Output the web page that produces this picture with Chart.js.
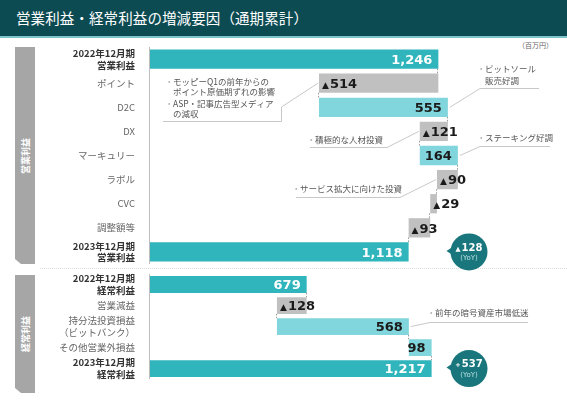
<!DOCTYPE html>
<html>
<head>
<meta charset="utf-8">
<script src="https://cdn.jsdelivr.net/npm/chart.js@4.4.0/dist/chart.umd.min.js"></script>
<style>
html, body { margin: 0; padding: 0; background: #fff; }
#page { position: relative; width: 567px; height: 405px; overflow: hidden; font-family: "Noto Sans CJK JP", sans-serif; }
#head { position: absolute; left: 0; top: 0; width: 567px; height: 36px; background: #0d4b53; border-bottom: 2px solid #7ec4c8; }
#title { position: absolute; left: 16px; top: 7px; color: #fff; font-size: 14.5px; letter-spacing: 0.1px; }
.tab { position: absolute; left: 15px; width: 20px; background: #a6a6a6;
       clip-path: polygon(0 0, 100% 0, 100% 100%, 6px 100%, 0 calc(100% - 5px)); }
.tab span { position: absolute; left: 50%; top: 50%; transform: translate(-50%, -50%) rotate(-90deg);
            color: #fff; font-size: 9px; font-weight: bold; white-space: nowrap; }
#unit { position: absolute; left: 518px; top: 40px; font-size: 7px; color: #666; }
#sep { position: absolute; left: 40px; top: 268px; width: 527px; border-top: 1px dotted #dcdcdc; }
.layer { position: absolute; left: 0; top: 0; }
</style>
</head>
<body>
<div id="page">
  <div id="head"><div id="title">営業利益・経常利益の増減要因（通期累計）</div></div>
  <div id="unit">（百万円）</div>
  <div class="tab" style="top:47px;height:217px"><span>営業利益</span></div>
  <div class="tab" style="top:275px;height:118px"><span>経常利益</span></div>
  <div id="sep"></div>
  <canvas id="opChart" class="layer" width="567" height="405"></canvas>
  <canvas id="ordChart" class="layer" width="567" height="405"></canvas>
</div>
<script>
// 営業利益 (百万円)
const opCategories = [['2022年12月期', '営業利益'], 'ポイント', 'D2C', 'DX', 'マーキュリー', 'ラボル', 'CVC', '調整額等', ['2023年12月期', '営業利益']];
const opValues = [1246, -514, 555, -121, 164, -90, -29, -93, 1118];
const opYoY = '▲128';

// 経常利益 (百万円)
const ordCategories = [['2022年12月期', '経常利益'], '営業減益', ['持分法投資損益', '（ビットバンク）'], 'その他営業外損益', ['2023年12月期', '経常利益']];
const ordValues = [679, -128, 568, 98, 1217];
const ordYoY = '+537';

// コメント
const opNoteTexts = [
    ['・モッピーQ1の前年からの', 'ポイント原価期ずれの影響', '・ASP・記事広告型メディア', 'の減収'],
    ['・ビットソール', '販売好調'],
    ['・積極的な人材投資'],
    ['・ステーキング好調'],
    ['・サービス拡大に向けた投資']
];
const ordNoteTexts = [
    ['・前年の暗号資産市場低迷']
];

// where each comment sits (page px) and which bar it points at
const opNoteLayout = [
    { row: 1, box: true, x: 169, ys: [82, 92, 104, 114] },
    { row: 2, side: 'right', x: 481, ys: [69, 81], lineY: 88, x1: 480, x2: 539 },
    { row: 3, side: 'left', x: 311, ys: [140], lineY: 147, x1: 310, x2: 387 },
    { row: 4, side: 'right', x: 481, ys: [138], lineY: 146, x1: 480, x2: 550 },
    { row: 5, side: 'left', x: 296, ys: [189], lineY: 197, x1: 296, x2: 400 }
];
const ordNoteLayout = [
    { row: 2, side: 'right', x: 431, ys: [313], lineY: 322, x1: 430, x2: 528 }
];

const TOTAL = '#30b5bd', UP = '#80d6dc', DOWN = '#c0c0c0';

function buildRanges(values) {
    let run = 0;
    const ranges = [], ends = [];
    values.forEach(function (v, i) {
        if (i == 0 || i == values.length - 1) {
            ranges.push([0, v]);
            run = v;
        } else {
            ranges.push([run, run + v]);
            run = run + v;
        }
        ends.push(run);
    });
    return { ranges: ranges, ends: ends };
}

function fmt(v) {
    return Math.abs(v).toLocaleString('en-US');
}

function drawValue(ctx, text, x, y, align, color, big, small) {
    // text may start with ▲ / +, drawn smaller than the digits
    let mark = '';
    if (text[0] == '▲' || text[0] == '+') { mark = text[0]; text = text.slice(1); }
    ctx.font = 'bold ' + big + 'px "DejaVu Sans"';
    const wNum = ctx.measureText(text).width;
    ctx.font = 'bold ' + small + 'px "DejaVu Sans"';
    const wMark = mark ? ctx.measureText(mark).width + 1 : 0;
    let x0;
    if (align == 'left') x0 = x;
    else if (align == 'right') x0 = x - wNum - wMark;
    else x0 = x - (wNum + wMark) / 2;
    ctx.fillStyle = color;
    ctx.textAlign = 'left';
    ctx.textBaseline = 'alphabetic';
    const base = y + big * 0.36;
    if (mark) ctx.fillText(mark, x0, base);
    ctx.font = 'bold ' + big + 'px "DejaVu Sans"';
    ctx.fillText(text, x0 + wMark, base);
}

const decor = {
    id: 'decor',
    afterDatasetsDraw(chart, args, o) {
        const ctx = chart.ctx;
        const area = chart.chartArea;
        const meta = chart.getDatasetMeta(0);
        const xs = chart.scales.x;
        const n = o.values.length;
        ctx.save();

        // axis line
        ctx.strokeStyle = '#bdbdbd';
        ctx.lineWidth = 1;
        ctx.beginPath();
        ctx.moveTo(area.left + 0.5, area.top);
        ctx.lineTo(area.left + 0.5, area.bottom);
        ctx.stroke();

        // dotted connectors between steps
        ctx.strokeStyle = '#9a9a9a';
        ctx.setLineDash([1.5, 1.5]);
        for (let i = 0; i < n - 1; i++) {
            const a = meta.data[i], b = meta.data[i + 1];
            const px = Math.round(xs.getPixelForValue(o.ends[i])) - 0.5;
            ctx.beginPath();
            ctx.moveTo(px, a.y + a.height / 2);
            ctx.lineTo(px, b.y - b.height / 2);
            ctx.stroke();
        }
        ctx.setLineDash([]);

        // value labels
        o.values.forEach(function (v, i) {
            const el = meta.data[i];
            const left = Math.min(el.x, el.base), right = Math.max(el.x, el.base);
            if (i == 0 || i == n - 1) {
                drawValue(ctx, fmt(v), right - 6, el.y, 'right', '#fff', 13, 9);
            } else if (v < 0) {
                drawValue(ctx, '▲' + fmt(v), left + 3, el.y, 'left', '#1a1a1a', 13, 9);
            } else {
                drawValue(ctx, fmt(v), right - 6, el.y, 'right', '#1a1a1a', 13, 9);
            }
        });

        // comments
        o.notes.forEach(function (lay, k) {
            const lines = o.noteTexts[k];
            const el = meta.data[lay.row];
            const left = Math.min(el.x, el.base), right = Math.max(el.x, el.base);
            ctx.font = '8.5px "Noto Sans CJK JP"';
            ctx.textBaseline = 'middle';
            ctx.textAlign = 'left';
            lines.forEach(function (t, j) {
                let tx = lay.x;
                if (t[0] == '・') {
                    ctx.fillStyle = '#aaa';
                    ctx.fillText('・', tx - 4, lay.ys[j]);
                    t = t.slice(1);
                }
                ctx.fillStyle = '#555';
                ctx.fillText(t, tx + 4, lay.ys[j]);
            });
            ctx.strokeStyle = '#c8c8c8';
            ctx.lineWidth = 1;
            ctx.beginPath();
            if (lay.box) {
                ctx.moveTo(163, 121.5);
                ctx.lineTo(281.5, 121.5);
                ctx.lineTo(281.5, 107);
                ctx.lineTo(left - 1, el.y);
            } else if (lay.side == 'right') {
                ctx.moveTo(lay.x2, lay.lineY + 0.5);
                ctx.lineTo(lay.x1, lay.lineY + 0.5);
                ctx.lineTo(right + 2, el.y);
            } else {
                ctx.moveTo(lay.x1, lay.lineY + 0.5);
                ctx.lineTo(lay.x2, lay.lineY + 0.5);
                ctx.lineTo(left - 1, el.y);
            }
            ctx.stroke();
        });

        // YoY bubble
        const last = meta.data[n - 1];
        const cx = 469, cy = last.y, r = 18.5;
        ctx.fillStyle = '#18767c';
        ctx.beginPath();
        ctx.arc(cx, cy, r, 0, Math.PI * 2);
        ctx.fill();
        ctx.beginPath();
        ctx.moveTo(cx - r + 2, cy - 5);
        ctx.lineTo(cx - r - 4, cy - 1);
        ctx.lineTo(cx - r + 2, cy + 3);
        ctx.fill();
        drawValue(ctx, o.yoy, cx, cy - 5, 'center', '#fff', 10, 6.5);
        ctx.font = '7px "DejaVu Sans"';
        ctx.fillStyle = '#b9e0e3';
        ctx.textAlign = 'center';
        ctx.textBaseline = 'middle';
        ctx.fillText('(YoY)', cx, cy + 6.5);

        ctx.restore();
    }
};

function makeWaterfall(id, categories, values, notes, noteTexts, yoy, padTop, padBottom) {
    const w = buildRanges(values);
    const last = values.length - 1;
    return new Chart(document.getElementById(id), {
        type: 'bar',
        data: {
            labels: categories,
            datasets: [{
                data: w.ranges,
                backgroundColor: values.map(function (v, i) {
                    if (i == 0 || i == last) return TOTAL;
                    return v < 0 ? DOWN : UP;
                }),
                borderWidth: 0,
                barPercentage: 1,
                categoryPercentage: 0.8
            }]
        },
        options: {
            indexAxis: 'y',
            responsive: false,
            animation: false,
            layout: { padding: { top: padTop, bottom: padBottom, left: 0, right: 0 } },
            plugins: {
                legend: { display: false },
                tooltip: { enabled: false },
                decor: { values: values, ends: w.ends, notes: notes, noteTexts: noteTexts, yoy: yoy }
            },
            scales: {
                x: { type: 'linear', min: 0, max: 1800, display: false },
                y: {
                    grid: { display: false, drawTicks: false },
                    border: { display: false },
                    afterFit: function (scale) { scale.width = 149; },
                    ticks: {
                        autoSkip: false,
                        padding: 14,
                        color: function (c) { return (c.index == 0 || c.index == last) ? '#333' : '#666'; },
                        font: function (c) {
                            const strong = c.index == 0 || c.index == last;
                            return {
                                family: '"Noto Sans CJK JP"',
                                size: strong ? 9.5 : 9.5,
                                weight: strong ? 'bold' : 'normal',
                                lineHeight: 1.25
                            };
                        }
                    }
                }
            }
        },
        plugins: [decor]
    });
}

makeWaterfall('opChart', opCategories, opValues, opNoteLayout, opNoteTexts, opYoY, 47, 141);
makeWaterfall('ordChart', ordCategories, ordValues, ordNoteLayout, ordNoteTexts, ordYoY, 274, 10);
</script>
</body>
</html>
